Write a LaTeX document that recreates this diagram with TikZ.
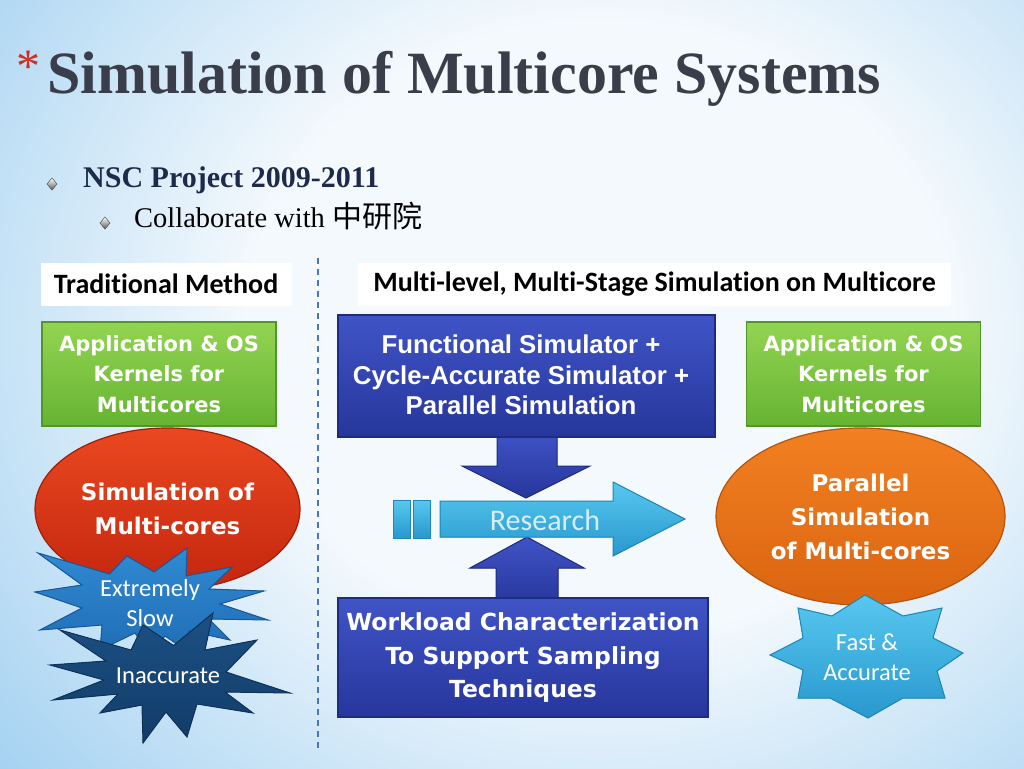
\documentclass[tikz,border=0pt]{standalone}
\usepackage{fontspec}
\setmainfont{Liberation Serif}
\newfontfamily\calib[Ligatures=NoCommon]{Carlito}
\newfontfamily\tah{DejaVu Sans}
\newfontfamily\arial{Liberation Sans}
\newfontfamily\cjk{Noto Sans CJK TC}
\usetikzlibrary{shapes.geometric}

\definecolor{bgw}{RGB}{244,249,253}
\definecolor{bgb}{RGB}{108,182,233}
\pgfdeclareradialshading{bgshade}{\pgfpoint{0bp}{0bp}}{color(0bp)=(bgw); color(11bp)=(bgw); color(34bp)=(bgb); color(50bp)=(bgb)}
\definecolor{titlecol}{RGB}{58,62,74}
\definecolor{navy}{RGB}{30,42,74}
\definecolor{dashcol}{RGB}{74,118,184}
\definecolor{gtop}{RGB}{146,212,82}
\definecolor{gbot}{RGB}{102,180,50}
\definecolor{gbrd}{RGB}{82,150,40}
\definecolor{btop}{RGB}{64,84,198}
\definecolor{bbot}{RGB}{38,54,156}
\definecolor{bbrd}{RGB}{30,44,128}
\definecolor{rtop}{RGB}{234,72,32}
\definecolor{rbot}{RGB}{196,38,14}
\definecolor{rbrd}{RGB}{160,30,10}
\definecolor{otop}{RGB}{242,128,34}
\definecolor{obot}{RGB}{218,100,16}
\definecolor{obrd}{RGB}{180,84,14}
\definecolor{s1top}{RGB}{48,138,210}
\definecolor{s1bot}{RGB}{30,108,180}
\definecolor{s1brd}{RGB}{24,88,150}
\definecolor{s2top}{RGB}{28,80,132}
\definecolor{s2bot}{RGB}{18,60,104}
\definecolor{s2brd}{RGB}{14,50,88}
\definecolor{ctop}{RGB}{88,200,240}
\definecolor{cbot}{RGB}{40,152,206}
\definecolor{cbrd}{RGB}{30,134,184}
\definecolor{restext}{RGB}{213,238,249}
\definecolor{astcol}{RGB}{208,48,32}

\begin{document}
\begin{tikzpicture}[x=1pt,y=-1pt,
  lbl/.style={fill=white, inner sep=0pt, text=black, font=\calib\bfseries\fontsize{28}{32}\selectfont},
  greenbox/.style={draw=gbrd, line width=1.2pt, top color=gtop, bottom color=gbot,
    minimum width=234pt, minimum height=104pt, inner sep=0pt, align=center, text=white,
    font=\tah\bfseries\fontsize{21}{30.5}\selectfont},
  bluebox/.style={draw=bbrd, line width=1.2pt, top color=btop, bottom color=bbot, inner sep=0pt},
  boxtext/.style={align=center, text=white, inner sep=0pt},
  oval/.style={ellipse, line width=1.2pt, inner sep=0pt, align=center, text=white,
    font=\tah\bfseries\fontsize{23}{34}\selectfont},
  startext/.style={align=center, text=white, inner sep=0pt, font=\calib\fontsize{24.5}{30.5}\selectfont},
  bullet/.style={draw=gray!70!black, line width=0.4pt, top color=white, bottom color=gray!70!black},
  dashline/.style={draw=dashcol, line width=2pt, dash pattern=on 6pt off 5pt},
  arrowshape/.style={draw=bbrd, line width=1pt, top color=btop, bottom color=bbot}
]
\useasboundingbox (0,0) rectangle (1024,768);
\begin{scope}
  \clip (0,0) rectangle (1024,768);
  \fill[bgb] (0,0) rectangle (1024,768);
  \shade[shading=bgshade] (-200,-370) rectangle (1400,1030);
\end{scope}

% title
\node[anchor=base west, inner sep=0pt, text=astcol, font=\fontsize{48}{48}\selectfont] (ast) at (16,82) {*};
\node[anchor=base west, inner sep=0pt, text=titlecol, font=\bfseries\fontsize{60}{70}\selectfont] (title) at (47,93) {Simulation of Multicore Systems};

% bullets
\filldraw[bullet] (52,178) -- (57,184) -- (52,190) -- (47,184) -- cycle;
\filldraw[bullet] (105,217) -- (110,223) -- (105,229) -- (100,223) -- cycle;
\node[anchor=base west, inner sep=0pt, text=navy, font=\bfseries\fontsize{30}{34}\selectfont] (nsc) at (83,187) {NSC Project 2009-2011};
\node[anchor=base west, inner sep=0pt, text=black, font=\fontsize{28.5}{32}\selectfont] (collab) at (134,227) {Collaborate with {\cjk\fontsize{30}{32}\selectfont 中研院}};

% divider
\coordinate (dtop) at (318,258);
\coordinate (dbot) at (318,748);
\draw[dashline] (dtop) -- (dbot);

% header labels
\node[lbl, minimum width=251pt, minimum height=43pt] (trad) at (166,284) {Traditional Method};
\node[lbl, minimum width=593pt, minimum height=43pt] (multi) at (654.5,284) {Multi-level, Multi-Stage Simulation on Multicore};

% left column
\node[greenbox] (appL) at (159,374) {Application \& OS\\Kernels for\\Multicores};
\node[oval, draw=rbrd, top color=rtop, bottom color=rbot, minimum width=265pt, minimum height=162pt] (simL) at (167.5,509) {Simulation of\\Multi-cores};

\filldraw[draw=s1brd, line width=1pt, top color=s1top, bottom color=s1bot]
 (38,553) -- (109.5,574) -- (127,556) -- (154,572) -- (187,548) -- (186,576) -- (232,567) -- (209,589)
 -- (264,591) -- (220,604) -- (268,620) -- (209,619) -- (230,640) -- (189,631) -- (200,660) -- (165,636)
 -- (150,655) -- (135,633) -- (100,650) -- (102,625) -- (40,630) -- (82,608) -- (35,592) -- (82,585) -- cycle;
\node[startext] (slow) at (150,603) {Extremely\\Slow};

\filldraw[draw=s2brd, line width=1pt, top color=s2top, bottom color=s2bot]
 (60,630) -- (131,650) -- (143,625) -- (173.5,645.5) -- (213,613) -- (205,650) -- (257,640) -- (226,672)
 -- (290,693) -- (225,692) -- (253,713) -- (197,704) -- (187,737) -- (166,712) -- (143,743) -- (142,705)
 -- (100,713) -- (118,694) -- (53,700) -- (104,680) -- (50,665) -- (106,661) -- cycle;
\node[startext] (inacc) at (168,676) {Inaccurate};

% middle column
\filldraw[arrowshape] (497,430) -- (497,466) -- (462,466) -- (526,498) -- (590,466) -- (557,466) -- (557,430) -- cycle;
\filldraw[arrowshape] (496,605) -- (496,568) -- (470,568) -- (527,537) -- (584,568) -- (558,568) -- (558,605) -- cycle;

\node[bluebox, minimum width=377pt, minimum height=122pt] (func) at (526.5,376) {};
\node[boxtext, font=\arial\bfseries\fontsize{25.8}{30.5}\selectfont] (functext) at (521,375) {Functional Simulator +\\Cycle-Accurate Simulator +\\Parallel Simulation};

\node[bluebox, minimum width=370pt, minimum height=119pt] (work) at (523,657.5) {};
\node[boxtext, font=\tah\bfseries\fontsize{23.5}{33.5}\selectfont] (worktext) at (523,658) {Workload Characterization\\To Support Sampling\\Techniques};

\filldraw[draw=cbrd, line width=1pt, top color=ctop, bottom color=cbot] (393,500) rectangle (410,538);
\filldraw[draw=cbrd, line width=1pt, top color=ctop, bottom color=cbot] (413,500) rectangle (430,538);
\filldraw[draw=cbrd, line width=1pt, top color=ctop, bottom color=cbot]
 (440,501) -- (613,501) -- (613,482) -- (685,519) -- (613,556) -- (613,537) -- (440,537) -- cycle;
\node[inner sep=0pt, text=restext, font=\calib\fontsize{30}{34}\selectfont] (research) at (545,520) {Research};

% right column
\node[greenbox] (appR) at (863.5,374) {Application \& OS\\Kernels for\\Multicores};
\node[oval, draw=obrd, top color=otop, bottom color=obot, minimum width=289pt, minimum height=177pt] (simR) at (860.5,516.5) {Parallel\\Simulation\\of Multi-cores};

\filldraw[draw=cbrd, line width=1pt, top color=ctop, bottom color=cbot]
 (865,595) -- (903,616) -- (942,608) -- (933,638) -- (963,653) -- (937,671) -- (945,698) -- (903,698)
 -- (868,718) -- (830,698) -- (798,698) -- (803,670) -- (770,655) -- (803,638) -- (798,608) -- (832,616) -- cycle;
\node[startext] (fast) at (867,657) {Fast \&\\Accurate};
\end{tikzpicture}
\end{document}
